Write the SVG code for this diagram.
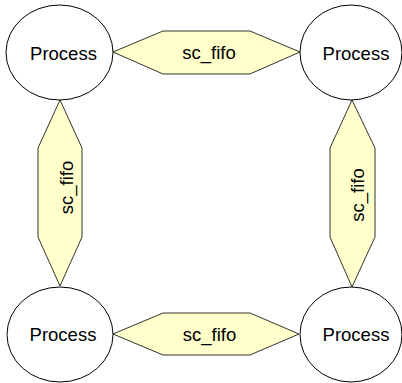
<svg xmlns="http://www.w3.org/2000/svg" width="402" height="383" viewBox="0 0 402 383">
  <style>
    .proc { fill: #ffffff; stroke: #000000; stroke-width: 1; }
    .fifo { fill: #ffffcc; stroke: #000000; stroke-width: 0.8; }
    .lbl { font-family: "Liberation Sans", Arial, sans-serif; font-size: 18.5px; fill: #000000; text-anchor: middle; }
  </style>
  <rect width="402" height="383" fill="#ffffff"/>

  <!-- channels between processes -->
  <g id="connectors">
    <g id="fifo-top">
      <polygon class="fifo" points="113,52 163,31 250,31 300,52 250,74 163,74"/>
      <text class="lbl" x="209" y="59">sc_fifo</text>
    </g>
    <g id="fifo-bottom">
      <polygon class="fifo" points="113,334 163,313 250,313 299,334 250,355 163,355"/>
      <text class="lbl" x="209.5" y="341">sc_fifo</text>
    </g>
    <g id="fifo-left">
      <polygon class="fifo" points="60,100 82,148 82,237 60,286 38,237 38,148"/>
      <text class="lbl" transform="translate(73 187.5) rotate(-90)">sc_fifo</text>
    </g>
    <g id="fifo-right">
      <polygon class="fifo" points="352,100 375,148 375,237 352,287 330,237 330,148"/>
      <text class="lbl" transform="translate(364 195) rotate(-90)">sc_fifo</text>
    </g>
  </g>

  <g id="process-tl">
    <ellipse class="proc" cx="59.5" cy="52.5" rx="53.5" ry="47.5"/>
    <text class="lbl" x="63.5" y="60">Process</text>
  </g>
  <g id="process-tr">
    <ellipse class="proc" cx="351" cy="52.5" rx="51" ry="47.5"/>
    <text class="lbl" x="356" y="60">Process</text>
  </g>
  <g id="process-bl">
    <ellipse class="proc" cx="60" cy="334.5" rx="53" ry="47.5"/>
    <text class="lbl" x="63" y="340.5">Process</text>
  </g>
  <g id="process-br">
    <ellipse class="proc" cx="351" cy="334.5" rx="51" ry="47.5"/>
    <text class="lbl" x="356" y="340.5">Process</text>
  </g>
</svg>
